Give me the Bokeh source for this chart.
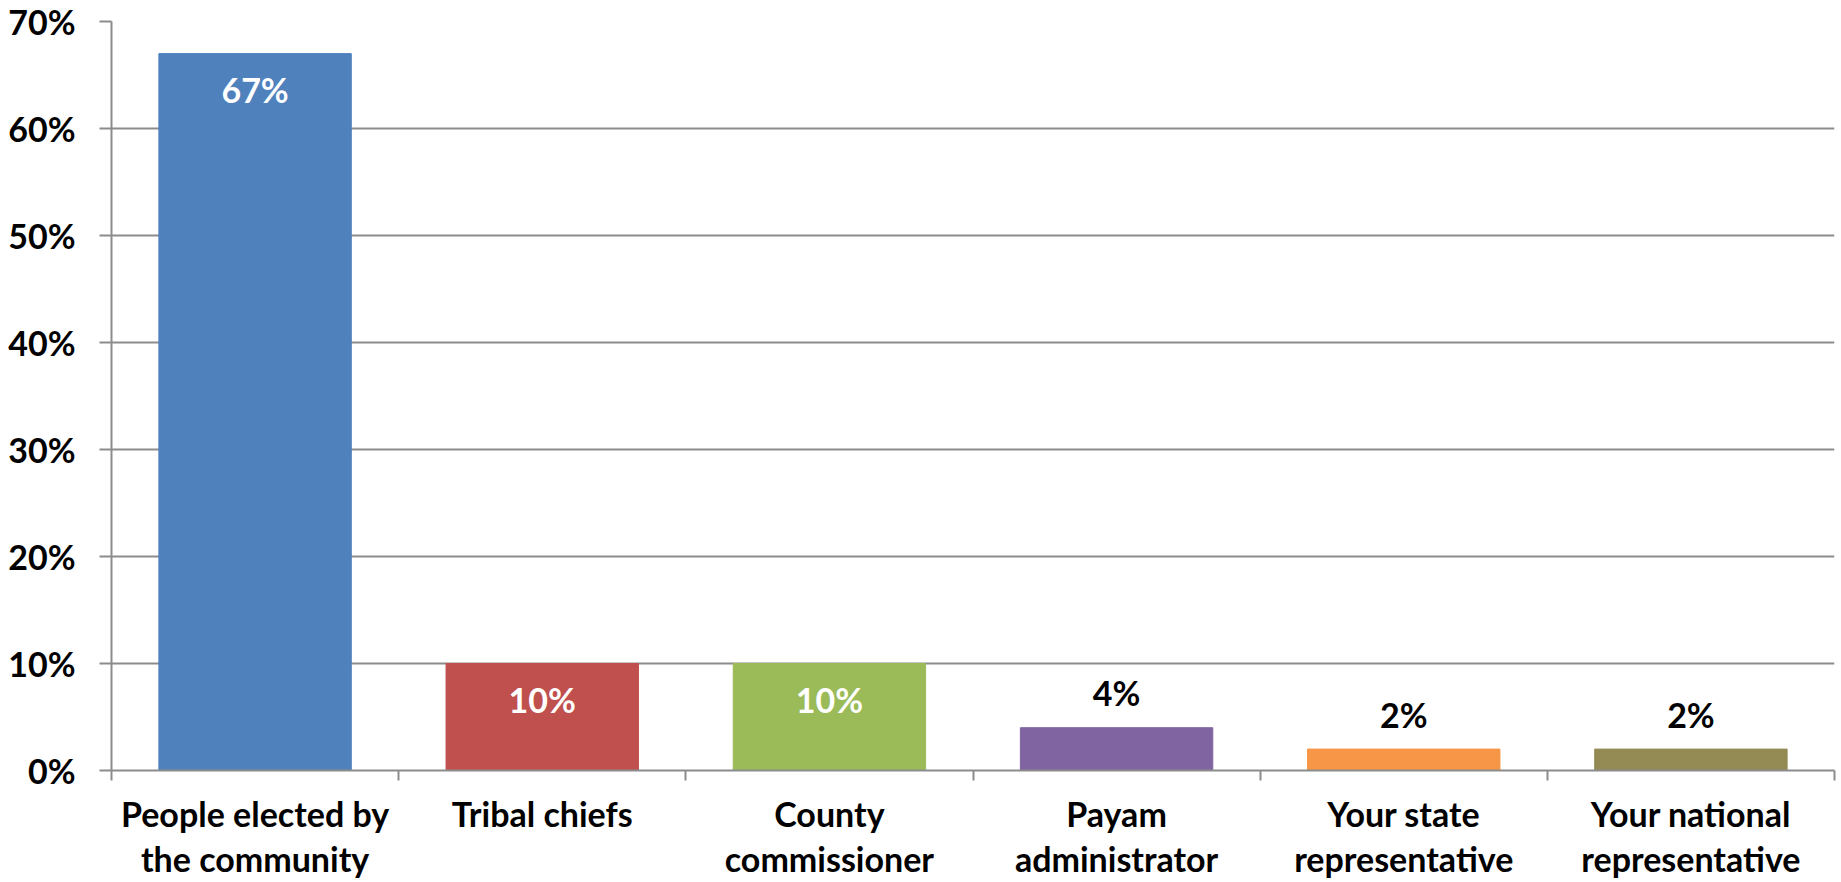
from bokeh.plotting import figure
from bokeh.models import Range1d, FixedTicker, ColumnDataSource
from bokeh.core.properties import value
from bokeh.embed import file_html
from bokeh.resources import INLINE

categories = ["People elected by\nthe community", "Tribal chiefs", "County\ncommissioner",
              "Payam\nadministrator", "Your state\nrepresentative", "Your national\nrepresentative"]
values = [67, 10, 10, 4, 2, 2]
colors = ["#4F81BD", "#C0504D", "#9BBB59", "#8064A2", "#F79646", "#948A54"]
y_ticks = [0, 10, 20, 30, 40, 50, 60, 70]
y_tick_labels = ["0%", "10%", "20%", "30%", "40%", "50%", "60%", "70%"]

FONT = "Lato"
FS = "34px"
GRID = "#8c8c8c"

centers = [i + 0.5 for i in range(len(categories))]
labels = [f"{v}%" for v in values]

p = figure(width=1836, height=882, output_backend="svg", toolbar_location=None,
           x_range=Range1d(0, len(categories)), y_range=Range1d(0, 70),
           min_border_left=111, min_border_right=2, min_border_top=21, min_border_bottom=100)
p.outline_line_color = None
p.background_fill_color = "white"

src = ColumnDataSource(dict(x=centers, top=values, color=colors, label=labels))
p.vbar(x="x", top="top", width=0.67, bottom=0, color="color", source=src)

inside = ColumnDataSource(dict(x=[c for c, v in zip(centers, values) if v >= 10],
                               y=[v for v in values if v >= 10],
                               t=[l for l, v in zip(labels, values) if v >= 10]))
outside = ColumnDataSource(dict(x=[c for c, v in zip(centers, values) if v < 10],
                                y=[v for v in values if v < 10],
                                t=[l for l, v in zip(labels, values) if v < 10]))
p.text(x="x", y="y", text="t", source=inside, text_align="center", text_baseline="middle",
       y_offset=36, text_color="white", text_font=value(FONT), text_font_style="bold",
       text_font_size=FS)
p.text(x="x", y="y", text="t", source=outside, text_align="center", text_baseline="middle",
       y_offset=-35, text_color="black", text_font=value(FONT), text_font_style="bold",
       text_font_size=FS)

# y axis
ya = p.yaxis[0]
ya.ticker = FixedTicker(ticks=y_ticks)
ya.major_label_overrides = {t: l for t, l in zip(y_ticks, y_tick_labels)}
ya.major_label_text_font = FONT
ya.major_label_text_font_style = "bold"
ya.major_label_text_font_size = FS
ya.major_label_text_color = "black"
ya.major_tick_out = 12
ya.major_tick_in = 0
ya.minor_tick_out = 0
ya.minor_tick_in = 0
ya.major_label_standoff = 24
ya.axis_line_color = GRID
ya.axis_line_width = 2
ya.major_tick_line_color = GRID
ya.major_tick_line_width = 2

# x axis
xa = p.xaxis[0]
xa.ticker = FixedTicker(ticks=centers, minor_ticks=list(range(len(categories) + 1)))
xa.major_label_overrides = {c: l for c, l in zip(centers, categories)}
xa.major_label_text_font = FONT
xa.major_label_text_font_style = "bold"
xa.major_label_text_font_size = FS
xa.major_label_text_color = "black"
xa.major_label_text_line_height = 1.12
xa.major_tick_out = 0
xa.major_tick_in = 0
xa.minor_tick_out = 10
xa.minor_tick_in = 0
xa.minor_tick_line_color = GRID
xa.minor_tick_line_width = 2
xa.major_label_standoff = 12
xa.axis_line_color = GRID
xa.axis_line_width = 2

p.xgrid.visible = False
p.ygrid.ticker = FixedTicker(ticks=y_ticks)
p.ygrid.grid_line_color = GRID
p.ygrid.grid_line_width = 2

open("out.html", "w").write(file_html(p, INLINE))
